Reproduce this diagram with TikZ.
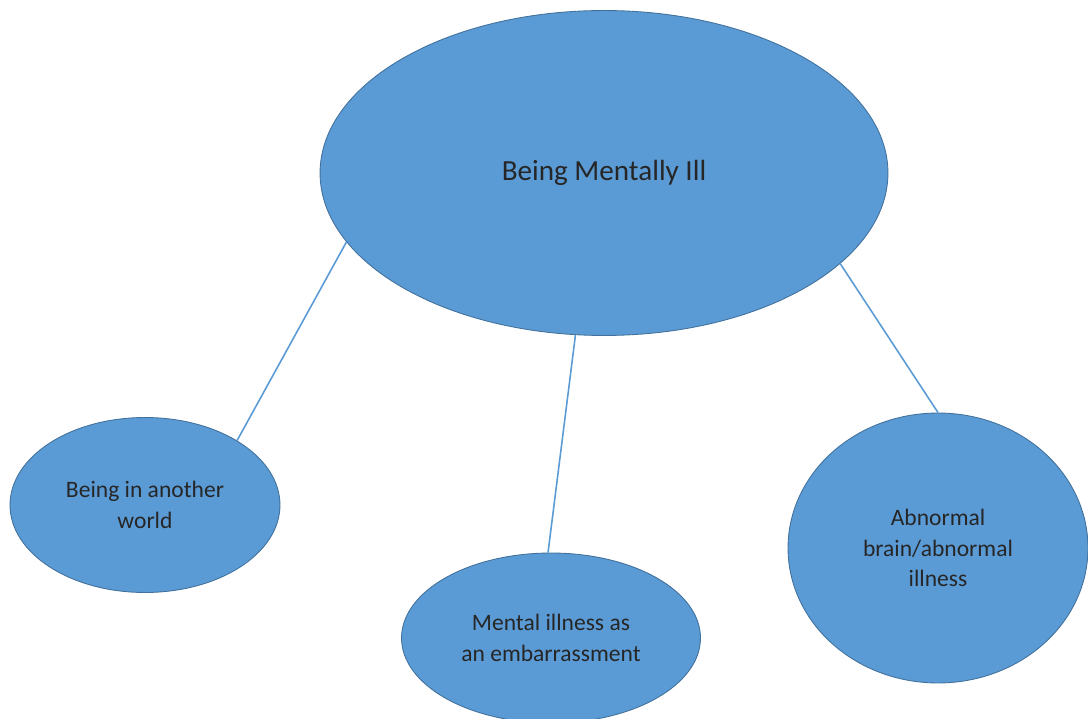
\documentclass[tikz,border=0pt]{standalone}
\usepackage{fontspec}
\setmainfont{Carlito}
\usetikzlibrary{shapes.geometric}
\definecolor{bubblefill}{HTML}{5B9BD5}
\definecolor{bubbleedge}{HTML}{41719C}
\definecolor{linkblue}{HTML}{5B9BD5}

\begin{document}
\begin{tikzpicture}[x=0.02cm,y=-0.02cm,
  bubble/.style={ellipse,fill=bubblefill,draw=bubbleedge,line width=0.5pt,
    align=center,inner sep=0pt,text=black!85,font=\fontsize{13.4}{17.5}\selectfont},
  link/.style={draw=linkblue,line width=0.9pt}]
\useasboundingbox (0,0) rectangle (1088,719);
% ---------- 中心 ----------
\node[bubble,minimum width=11.36cm,minimum height=6.5cm,
  font=\fontsize{16.6}{20}\selectfont] (ill) at (604,173) {Being Mentally Ill};
% ---------- 三个分支 ----------
\node[bubble,minimum width=5.4cm,minimum height=3.5cm] (world) at (145,505)
  {Being in another\\world};
\node[bubble,minimum width=5.98cm,minimum height=3.4cm] (shame) at (551,638)
  {Mental illness as\\an embarrassment};
\node[bubble,minimum width=6.0cm,minimum height=5.4cm] (brain) at (938,548)
  {Abnormal\\brain/abnormal\\illness};
% ---------- 连线 ----------
\draw[link] (ill.195.2) -- (world.35.8);
\draw[link] (ill.260.6) -- (shame.92.7);
\draw[link] (ill.339.2) -- (brain.90);
\end{tikzpicture}
\end{document}
